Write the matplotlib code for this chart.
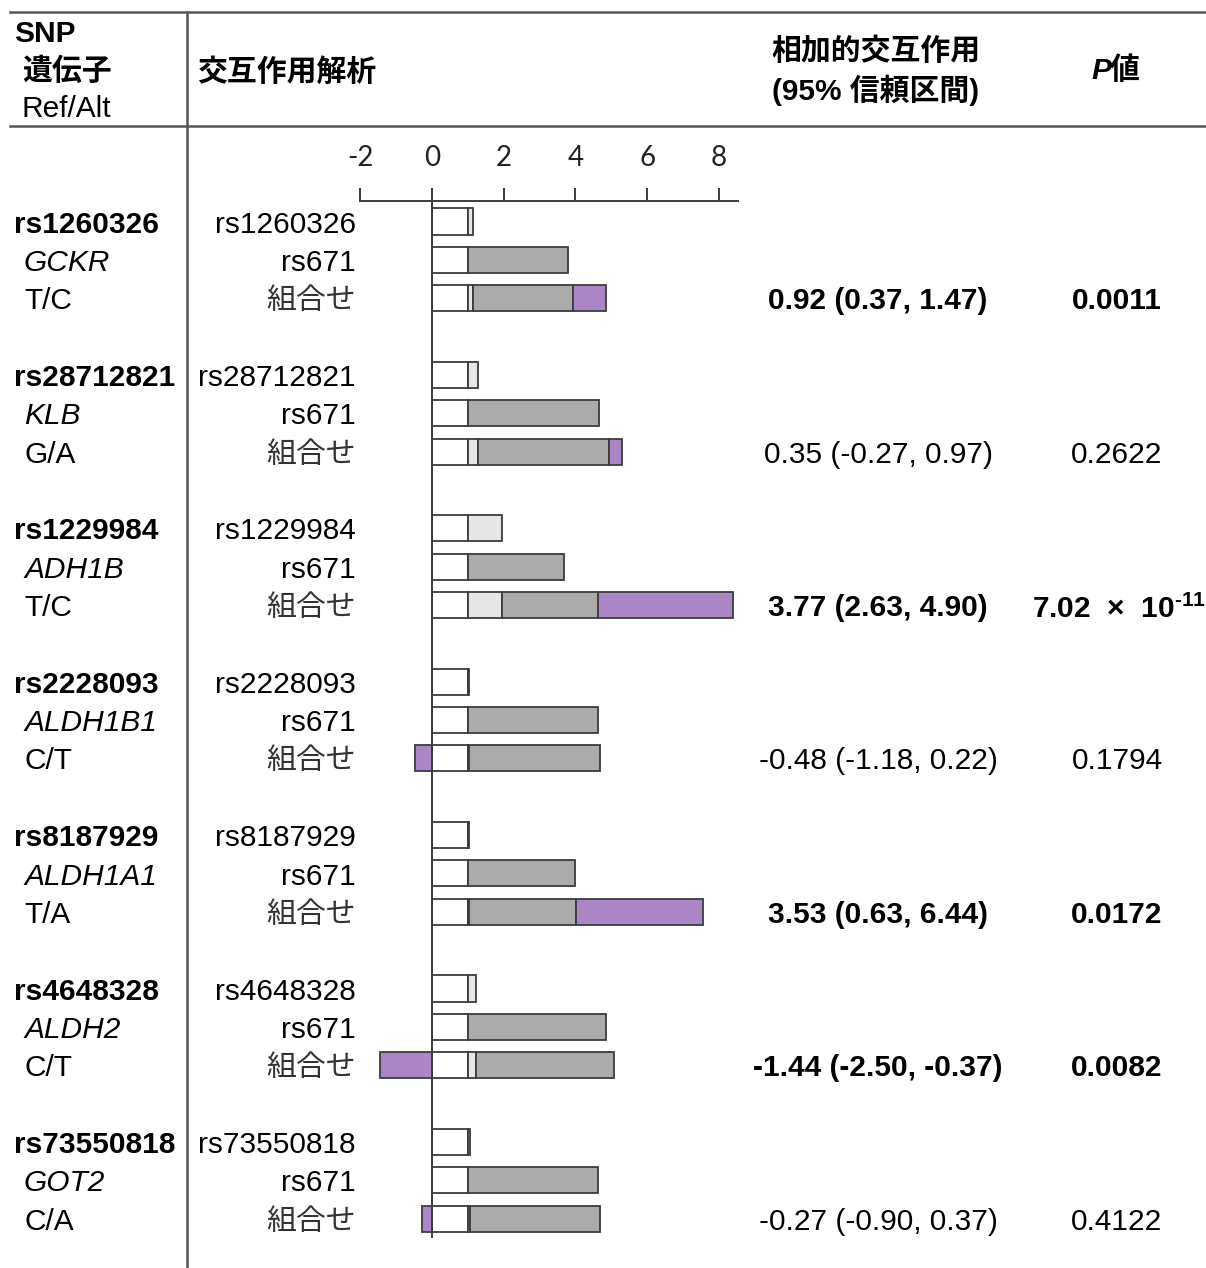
import matplotlib

matplotlib.use("Agg")
import matplotlib.pyplot as plt
import matplotlib.transforms as mtransforms
from matplotlib.lines import Line2D

plt.rcParams["font.family"] = ["Liberation Sans", "Noto Sans CJK JP"]
plt.rcParams["axes.unicode_minus"] = False
plt.rcParams["mathtext.fontset"] = "custom"
plt.rcParams["mathtext.rm"] = "Liberation Sans:bold"
plt.rcParams["mathtext.bf"] = "Liberation Sans:bold"

# data
snps = ["rs1260326", "rs28712821", "rs1229984", "rs2228093", "rs8187929", "rs4648328", "rs73550818"]
genes = ["GCKR", "KLB", "ADH1B", "ALDH1B1", "ALDH1A1", "ALDH2", "GOT2"]
alleles = ["T/C", "G/A", "T/C", "C/T", "T/A", "C/T", "C/A"]
rr_snp = [1.15, 1.28, 1.95, 1.04, 1.03, 1.22, 1.06]
rr_rs671 = [3.79, 4.67, 3.68, 4.64, 4.00, 4.86, 4.62]
reri = [0.92, 0.35, 3.77, -0.48, 3.53, -1.44, -0.27]
reri_lo = [0.37, -0.27, 2.63, -1.18, 0.63, -2.50, -0.90]
reri_hi = [1.47, 0.97, 4.90, 0.22, 6.44, -0.37, 0.37]
p_mant = ["0.0011", "0.2622", "7.02", "0.1794", "0.0172", "0.0082", "0.4122"]
p_exp = [None, None, "-11", None, None, None, None]
significant = [True, False, True, False, True, True, False]
row_labels = ["rs671", "組合せ"]
tick_vals = [-2, 0, 2, 4, 6, 8]
tick_labels = ["-2", "0", "2", "4", "6", "8"]

W, H = 1206, 1268
C_WHITE = "white"
C_LIGHT = "#e6e6e6"
C_DARK = "#ababab"
C_PURPLE = "#ab86c6"
C_EDGE = "#3c3c3c"
FS = 21.5

fig = plt.figure(figsize=(W / 100, H / 100), dpi=100)
ax = fig.add_axes([360 / W, 1 - 1237 / H, (738 - 360) / W, (1237 - 201) / H])
ax.set_xlim(-2, 8.53)
ax.set_ylim(26.48, -0.535)

bh = 0.68
bar_kw = dict(height=bh, edgecolor=C_EDGE, linewidth=1.3)
for g in range(len(snps)):
    y0 = g * 4
    s, r, i = rr_snp[g], rr_rs671[g], reri[g]
    # SNP alone
    ax.barh(y0, 1, left=0, color=C_WHITE, **bar_kw)
    ax.barh(y0, s - 1, left=1, color=C_LIGHT, **bar_kw)
    # rs671 alone
    ax.barh(y0 + 1, 1, left=0, color=C_WHITE, **bar_kw)
    ax.barh(y0 + 1, r - 1, left=1, color=C_DARK, **bar_kw)
    # combination
    ax.barh(y0 + 2, 1, left=0, color=C_WHITE, **bar_kw)
    ax.barh(y0 + 2, s - 1, left=1, color=C_LIGHT, **bar_kw)
    ax.barh(y0 + 2, r - 1, left=s, color=C_DARK, **bar_kw)
    if i >= 0:
        ax.barh(y0 + 2, i, left=s + r - 1, color=C_PURPLE, **bar_kw)
    else:
        ax.barh(y0 + 2, -i, left=i, color=C_PURPLE, **bar_kw)

for side in ["right", "bottom"]:
    ax.spines[side].set_visible(False)
ax.spines["left"].set_position(("data", 0))
for side in ["left", "top"]:
    ax.spines[side].set_color(C_EDGE)
    ax.spines[side].set_linewidth(1.4)
ax.spines["left"].set_zorder(5)
ax.set_yticks([])
ax.xaxis.set_ticks_position("top")
ax.set_xticks(tick_vals, labels=tick_labels)
ax.tick_params(axis="x", direction="out", length=9.5, width=1.4, color=C_EDGE,
               pad=12, labelsize=20, labelcolor="#222222")
for lab in ax.get_xticklabels():
    lab.set_fontfamily("Lato")
ax.patch.set_alpha(0)

# table lines
line_kw = dict(color="#555555", linewidth=1.8)
fig.add_artist(Line2D([10 / W, 1], [1 - 12 / H, 1 - 12 / H], **line_kw))
fig.add_artist(Line2D([10 / W, 1], [1 - 126 / H, 1 - 126 / H], **line_kw))
fig.add_artist(Line2D([187 / W, 187 / W], [1 - 12 / H, 0], **line_kw))

# header
def fy(py):
    return 1 - py / H

fig.text(14 / W, fy(34), "SNP", fontsize=FS, fontweight="bold", va="center")
fig.text(22 / W, fy(72), "遺伝子", fontsize=FS, fontweight="bold", va="center")
fig.text(22 / W, fy(109), "Ref/Alt", fontsize=FS, va="center")
fig.text(197 / W, fy(72), "交互作用解析", fontsize=FS, fontweight="bold", va="center")
fig.text(876 / W, fy(52), "相加的交互作用", fontsize=FS, fontweight="bold", va="center", ha="center")
fig.text(876 / W, fy(90), "(95% 信頼区間)", fontsize=FS, fontweight="bold", va="center", ha="center")
fig.text(1111 / W, fy(71), "P", fontsize=FS, fontweight="bold", fontstyle="italic", va="center", ha="right")
fig.text(1110 / W, fy(71), "値", fontsize=FS, fontweight="bold", va="center", ha="left")

# row texts
tr = mtransforms.blended_transform_factory(fig.transFigure, ax.transData)
dy = 0.08
for g in range(len(snps)):
    y0 = g * 4 + dy
    ax.text(14 / W, y0, snps[g], transform=tr, fontsize=FS, fontweight="bold", va="center")
    ax.text(24 / W, y0 + 1, genes[g], transform=tr, fontsize=FS, fontstyle="italic", va="center")
    ax.text(24 / W, y0 + 2, alleles[g], transform=tr, fontsize=FS, va="center")
    ax.text(356 / W, y0, snps[g], transform=tr, fontsize=FS, va="center", ha="right")
    ax.text(356 / W, y0 + 1, row_labels[0], transform=tr, fontsize=FS, va="center", ha="right")
    ax.text(356 / W, y0 + 2, row_labels[1], transform=tr, fontsize=FS, va="center", ha="right",
            color="#333333")
    wt = "bold" if significant[g] else "normal"
    ci = f"{reri[g]:.2f} ({reri_lo[g]:.2f}, {reri_hi[g]:.2f})"
    ax.text(878 / W, y0 + 2, ci, transform=tr, fontsize=FS, fontweight=wt, va="center", ha="center")
    if p_exp[g] is None:
        ax.text(1117 / W, y0 + 2, p_mant[g], transform=tr, fontsize=FS, fontweight=wt,
                va="center", ha="center")
    else:
        label = p_mant[g] + "  ×  10$^{\\text{" + p_exp[g] + "}}$"
        ax.text(1032 / W, y0 + 2 - 0.05, label, transform=tr, fontsize=FS, fontweight=wt,
                va="center_baseline", ha="left")

fig.savefig("out.png", dpi=100)
